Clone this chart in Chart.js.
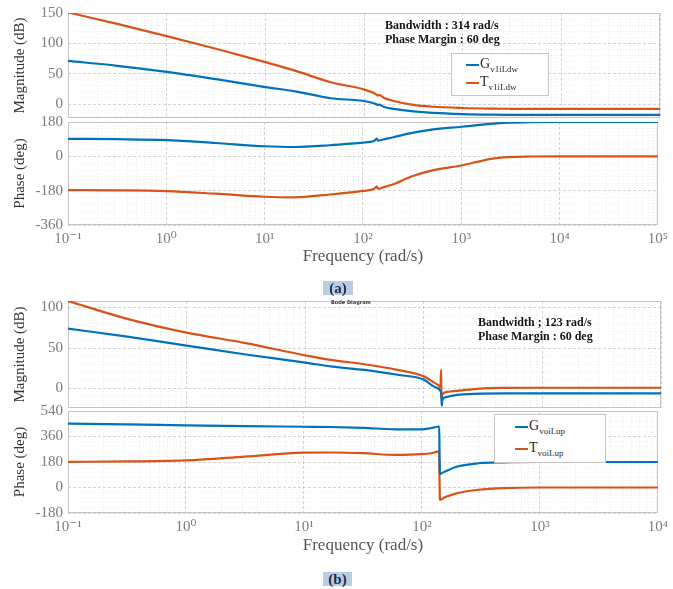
<!DOCTYPE html>
<html>
<head>
<meta charset="utf-8">
<script src="https://cdn.jsdelivr.net/npm/chart.js@4.4.0/dist/chart.umd.min.js"></script>
<style>
  body { margin: 0; background: #fff; }
  #fig { position: relative; width: 673px; height: 589px; overflow: hidden; font-family: "Liberation Serif", "DejaVu Serif", serif; }
  canvas { position: absolute; left: 0; }
  .note { position: absolute; font-weight: bold; font-size: 12px; color: #151515; white-space: nowrap; line-height: 14px; }
  .legend { position: absolute; background: #fff; border: 1px solid #c6c6c6; }
  .item { position: absolute; left: 14px; font-size: 14px; color: #2a2a2a; white-space: nowrap; line-height: 16px; }
  .item i { display: inline-block; width: 13px; height: 2px; vertical-align: middle; margin-right: 1px; }
  .item sub { font-size: 9px; vertical-align: -4px; }
  .tag { position: absolute; background: #b9cde0; color: #1d2c4a; font-weight: bold; font-size: 15px; line-height: 14px; text-align: center; }
  .bode { position: absolute; left: 331px; top: 299px; font: bold 5px "DejaVu Sans", sans-serif; color: #333; }
</style>
</head>
<body>
<div id="fig">
  <canvas id="aMag" width="673" height="130" style="top:0px"></canvas>
  <canvas id="aPhase" width="673" height="162" style="top:105px"></canvas>
  <canvas id="bMag" width="673" height="140" style="top:280px"></canvas>
  <canvas id="bPhase" width="673" height="161" style="top:395px"></canvas>

  <div class="note" style="left:385px; top:18px">Bandwidth : 314 rad/s<br>Phase Margin : 60 deg</div>
  <div class="legend" style="left:451px; top:53px; width:96px; height:41px">
    <div class="item" style="top:2px"><i style="background:#0072BD"></i>G<sub>v1iLdw</sub></div>
    <div class="item" style="top:20px"><i style="background:#D95319"></i>T<sub>v1iLdw</sub></div>
  </div>
  <div class="tag" style="left:323px; top:281px; width:30px; height:14px">(a)</div>

  <div class="bode">Bode Diagram</div>
  <div class="note" style="left:478px; top:315px">Bandwidth ; 123 rad/s<br>Phase Margin : 60 deg</div>
  <div class="legend" style="left:494px; top:414px; width:110px; height:47px">
    <div class="item" style="left:20px; top:3px"><i style="background:#0072BD"></i>G<sub>voiLup</sub></div>
    <div class="item" style="left:20px; top:25px"><i style="background:#D95319"></i>T<sub>voiLup</sub></div>
  </div>
  <div class="tag" style="left:323px; top:572px; width:29px; height:14px">(b)</div>
</div>
<script>
// figure (a): frequency points (rad/s) and responses
const freqA = [0.1, 0.316, 1, 3.16, 10, 20, 46, 100, 130, 138, 142, 160, 200, 316, 500, 1000, 2000, 3000, 5000, 10000, 100000];
const gMagA = [71, 63, 53, 41, 28, 21, 9.5, 5, 0.5, -1.5, -1, -5, -8, -12, -14.5, -16.5, -17.5, -17.8, -18, -18, -18];
const tMagA = [151, 132, 112, 91, 69, 55, 36, 24, 17, 14, 15, 10, 5, -1.5, -4.5, -6.5, -7.5, -7.8, -8, -8, -8];
const gPhaseA = [92, 90, 85, 70, 53, 49, 58, 72, 80, 93, 82, 88, 99, 123, 140, 155, 170, 176, 179, 180, 180];
const tPhaseA = [-177, -178, -182, -196, -212, -215, -200, -181, -170, -158, -170, -163, -148, -104, -75, -48, -13, -4, -1, 0, 0];

// figure (b)
const freqB = [0.1, 0.316, 1, 3.16, 10, 17, 31.6, 60, 100, 120, 135, 138, 140, 141, 142, 143, 150, 160, 200, 300, 500, 1000, 3000, 10000];
const gMagB = [74, 64, 53, 42, 32, 27, 23, 17, 11, 3, -1, -3, -6, -14, -21, -15, -11, -10, -7.5, -6.2, -6, -6, -6, -6];
const tMagB = [108, 86, 69, 56, 41, 35, 30, 23, 15, 8, 3, 1, 23, -13, -10, -8, -5, -4, -2.5, 0, 0.8, 1, 1, 1];
const gPhaseB = [451, 446, 439, 433, 429, 427, 421, 411, 411, 420, 429, 430, 430, 250, 100, 96, 105, 116, 148, 171, 178, 180, 180, 180];
const tPhaseB = [181, 184, 191, 218, 246, 247, 242, 230, 235, 242, 253, 255, 255, 50, -80, -88, -78, -66, -40, -16, -4, 0, 0, 0];

const namesA = ['Gv1iLdw', 'Tv1iLdw'];
const namesB = ['GvoiLup', 'TvoiLup'];

const magTicksA = [0, 50, 100, 150];
const phaseTicksA = [-360, -180, 0, 180];
const magTicksB = [0, 50, 100];
const phaseTicksB = [-180, 0, 180, 360, 540];

const BLUE = '#0072BD', ORANGE = '#D95319';
const SERIF = '"Liberation Serif", "DejaVu Serif", serif';

const SUP = { '-': '\u207B', '0': '\u2070', '1': '\u00B9', '2': '\u00B2', '3': '\u00B3', '4': '\u2074', '5': '\u2075' };
const isDecade = v => Math.abs(Math.log10(v) - Math.round(Math.log10(v))) < 1e-6;
const decadeLabel = v => '10' + String(Math.round(Math.log10(v))).split('').map(c => SUP[c]).join('');

const logTicks = (min, max) => {
    const out = [];
    for (let k = Math.round(Math.log10(min)); k <= Math.round(Math.log10(max)); k++) {
        for (let m = 1; m <= 9; m++) {
            const v = Number((m * Math.pow(10, k)).toPrecision(6));
            if (v >= min && v <= max) out.push({ value: v });
        }
    }
    return out;
};
const linTicks = (min, max, step) => {
    const out = [];
    for (let v = Math.ceil(min / step) * step; v <= max + 1e-9; v += step) out.push({ value: v });
    return out;
};

const frame = {
    id: 'frame',
    beforeDatasetsDraw(chart) {
        const { ctx, chartArea: a } = chart;
        ctx.save();
        ctx.strokeStyle = '#c4c4c4';
        ctx.lineWidth = 1;
        ctx.strokeRect(a.left + 0.5, a.top + 0.5, a.width - 1, a.height - 1);
        ctx.restore();
    }
};

const bode = function (id, cfg) {
    const { freq, series, yMin, yMax, yMajor, yMinor, xMax, yTitle, pad, xHeight } = cfg;
    const showX = xHeight > 0;
    const majorY = v => yMajor.some(m => Math.abs(m - v) < 1e-6);
    new Chart(document.getElementById(id), {
        type: 'line',
        data: {
            datasets: series.map((s) => ({
                label: s.name,
                data: freq.map((f, i) => ({ x: f, y: s.values[i] })),
                borderColor: s.color,
                borderWidth: 2.2,
                pointRadius: 0,
                cubicInterpolationMode: 'monotone',
                fill: false,
            }))
        },
        options: {
            responsive: false,
            animation: false,
            events: [],
            layout: { padding: pad },
            plugins: { legend: { display: false }, tooltip: { enabled: false } },
            scales: {
                x: {
                    type: 'logarithmic',
                    min: 0.1,
                    max: xMax,
                    afterBuildTicks: (s) => { s.ticks = logTicks(0.1, xMax); },
                    afterFit: (s) => { s.height = xHeight; },
                    ticks: {
                        display: showX,
                        autoSkip: false,
                        maxRotation: 0,
                        padding: 5,
                        color: '#7c7c7c',
                        font: { family: SERIF, size: 15 },
                        callback: (v) => isDecade(v) ? decadeLabel(v) : '',
                    },
                    grid: {
                        drawTicks: false,
                        color: (c) => c.tick && isDecade(c.tick.value) ? 'rgba(0,0,0,0.17)' : 'rgba(0,0,0,0.08)',
                    },
                    border: {
                        display: false,
                        dash: (c) => c.tick && isDecade(c.tick.value) ? [3, 2] : [1, 2],
                    },
                    title: {
                        display: showX,
                        text: 'Frequency (rad/s)',
                        color: '#555',
                        font: { family: SERIF, size: 17 },
                        padding: 0,
                    },
                },
                y: {
                    min: yMin,
                    max: yMax,
                    afterBuildTicks: (s) => { s.ticks = linTicks(yMin, yMax, yMinor); },
                    afterFit: (s) => { s.width = 68; s.paddingTop = 0; s.paddingBottom = 0; },
                    ticks: {
                        autoSkip: false,
                        padding: 5,
                        color: '#7c7c7c',
                        font: { family: SERIF, size: 15 },
                        callback: (v) => majorY(v) ? String(v) : '',
                    },
                    grid: {
                        drawTicks: false,
                        color: (c) => c.tick && majorY(c.tick.value) ? 'rgba(0,0,0,0.17)' : 'rgba(0,0,0,0.06)',
                    },
                    border: {
                        display: false,
                        dash: (c) => c.tick && majorY(c.tick.value) ? [3, 2] : [1, 2],
                    },
                    title: {
                        display: true,
                        text: yTitle,
                        color: '#333',
                        font: { family: SERIF, size: 15 },
                        padding: { top: 11, bottom: 0 },
                    },
                }
            }
        },
        plugins: [frame],
    });
};

bode('aMag', {
    freq: freqA, xMax: 100000, yMin: -23, yMax: 150, yMajor: magTicksA, yMinor: 10,
    yTitle: 'Magnitude (dB)', pad: { top: 13, bottom: 12, left: 0, right: 13 }, xHeight: 0,
    series: [{ name: namesA[0], values: gMagA, color: BLUE }, { name: namesA[1], values: tMagA, color: ORANGE }],
});
bode('aPhase', {
    freq: freqA, xMax: 100000, yMin: -360, yMax: 180, yMajor: phaseTicksA, yMinor: 36,
    yTitle: 'Phase (deg)', pad: { top: 17, bottom: 0, left: 0, right: 13 }, xHeight: 42,
    series: [{ name: namesA[0], values: gPhaseA, color: BLUE }, { name: namesA[1], values: tPhaseA, color: ORANGE }],
});
bode('bMag', {
    freq: freqB, xMax: 10000, yMin: -24, yMax: 108, yMajor: magTicksB, yMinor: 10,
    yTitle: 'Magnitude (dB)', pad: { top: 21, bottom: 12, left: 0, right: 12 }, xHeight: 0,
    series: [{ name: namesB[0], values: gMagB, color: BLUE }, { name: namesB[1], values: tMagB, color: ORANGE }],
});
bode('bPhase', {
    freq: freqB, xMax: 10000, yMin: -180, yMax: 540, yMajor: phaseTicksB, yMinor: 36,
    yTitle: 'Phase (deg)', pad: { top: 16, bottom: 0, left: 0, right: 12 }, xHeight: 43,
    series: [{ name: namesB[0], values: gPhaseB, color: BLUE }, { name: namesB[1], values: tPhaseB, color: ORANGE }],
});
</script>
</body>
</html>
